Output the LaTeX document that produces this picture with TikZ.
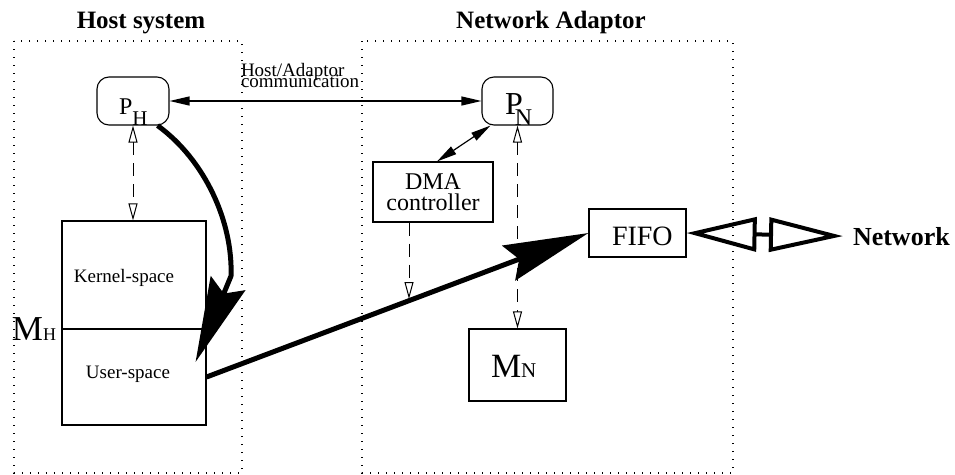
\documentclass[tikz,border=0pt]{standalone}
\usepackage{fontspec}
\setmainfont{Liberation Serif}
\usetikzlibrary{arrows.meta}

\newcommand{\fs}[1]{\fontsize{#1}{#1}\selectfont}

\tikzset{
  frame/.style={line width=1.4pt, dash pattern=on 1.4pt off 6.6pt},
  plainbox/.style={draw, line width=1.1pt, inner sep=0pt, minimum width=#1},
  procbox/.style={draw, line width=1.1pt, rounded corners=12pt, inner sep=0pt,
    minimum width=72pt, minimum height=48pt},
  txt/.style={inner sep=0pt, outer sep=0pt},
  link/.style={line width=1.2pt, {Triangle[length=20pt,width=9pt]}-{Triangle[length=20pt,width=9pt]}},
  ctrl/.style={line width=1pt, dash pattern=on 13pt off 8pt,
    {Triangle[open,length=17pt,width=9pt]}-{Triangle[open,length=17pt,width=9pt]}},
  ctrlone/.style={line width=1pt, dash pattern=on 13pt off 8pt,
    -{Triangle[open,length=17pt,width=9pt]}},
  flow/.style={line width=5pt, line join=round, -{Stealth[length=85pt,width=37pt,inset=11pt]}},
  netlink/.style={line width=4pt,
    {Triangle[open,length=70pt,width=34pt]}-{Triangle[open,length=74pt,width=34pt]}},
}

\begin{document}
\begin{tikzpicture}[x=1pt,y=-1pt]
\useasboundingbox (0,0) rectangle (955,474);

% section frames and titles
\draw[frame] (14,41) rectangle (242,473);
\draw[frame] (362,41) rectangle (733,473);
\node[txt, anchor=base, font=\fs{25}\bfseries] (hosttitle) at (141,28) {Host system};
\node[txt, anchor=base, font=\fs{25}\bfseries] (nettitle) at (551,28) {Network Adaptor};

% processors
\node[procbox] (PH) at (133,101) {};
\node[txt, anchor=base west] (PHlabel) at (119,114) {\fs{24}P\fs{21}\raisebox{-11pt}{H}};
\node[procbox, minimum width=71pt] (PN) at (517.5,101) {};
\node[txt, anchor=base west] (PNlabel) at (505,114) {\fs{32}P\kern-8pt\fs{24}\raisebox{-11pt}{N}};

% host memory
\node[plainbox=144pt, minimum height=204pt] (MH) at (134,323) {};
\draw[line width=1.1pt] (MH.west |- 0,329) -- (MH.east |- 0,329);
\node[txt, anchor=base] (kernel) at (124,282) {\fs{19}Kernel-space};
\node[txt, anchor=base] (user) at (128,378) {\fs{19}User-space};
\node[txt, anchor=base west] (MHlabel) at (12,340) {\fs{35}M\fs{18}H};

% adaptor components
\node[plainbox=120pt, minimum height=60pt, align=center, font=\fs{24}]
  (DMA) at (433,192) {DMA\\[-3pt]controller};
\node[plainbox=97pt, minimum height=48pt] (FIFO) at (637.5,233) {};
\node[txt, anchor=base west] (FIFOlabel) at (612,245) {\fs{28}FIFO};
\node[plainbox=97pt, minimum height=72pt] (MN) at (517.5,365) {};
\node[txt, anchor=base west] (MNlabel) at (491,377) {\fs{34}M\fs{21}N};

% network
\node[txt, anchor=base west, font=\fs{26}\bfseries] (net) at (853,245) {Network};

% host/adaptor communication
\draw[link] (PH.east) -- (PN.west);
\node[txt, anchor=north west, align=left, font=\fs{19}] (commlabel) at (241,63)
  {Host/Adaptor\\[-8pt]communication};

% control connections
\draw[link] ([xshift=-27pt]PN.south) -- ([xshift=4pt]DMA.north);
\draw[ctrl] (PH.south) -- (PH.south |- MH.north);
\draw[ctrl] (PN.south) -- (MN.north);
\coordinate (dmahit) at (409,299);
\draw[ctrlone] ([xshift=-24pt]DMA.south) -- (dmahit);

% data flow
\draw[flow] ([xshift=-12pt]PH.south east) .. controls (205,160) and (233,222) .. (231,276) -- ([xshift=-11pt,yshift=-39pt]MH.east);
\draw[flow] ([yshift=-54pt]MH.east) -- (FIFO.west);
\draw[netlink] (FIFO.east) -- ([xshift=-10pt]net.west);
\end{tikzpicture}
\end{document}
